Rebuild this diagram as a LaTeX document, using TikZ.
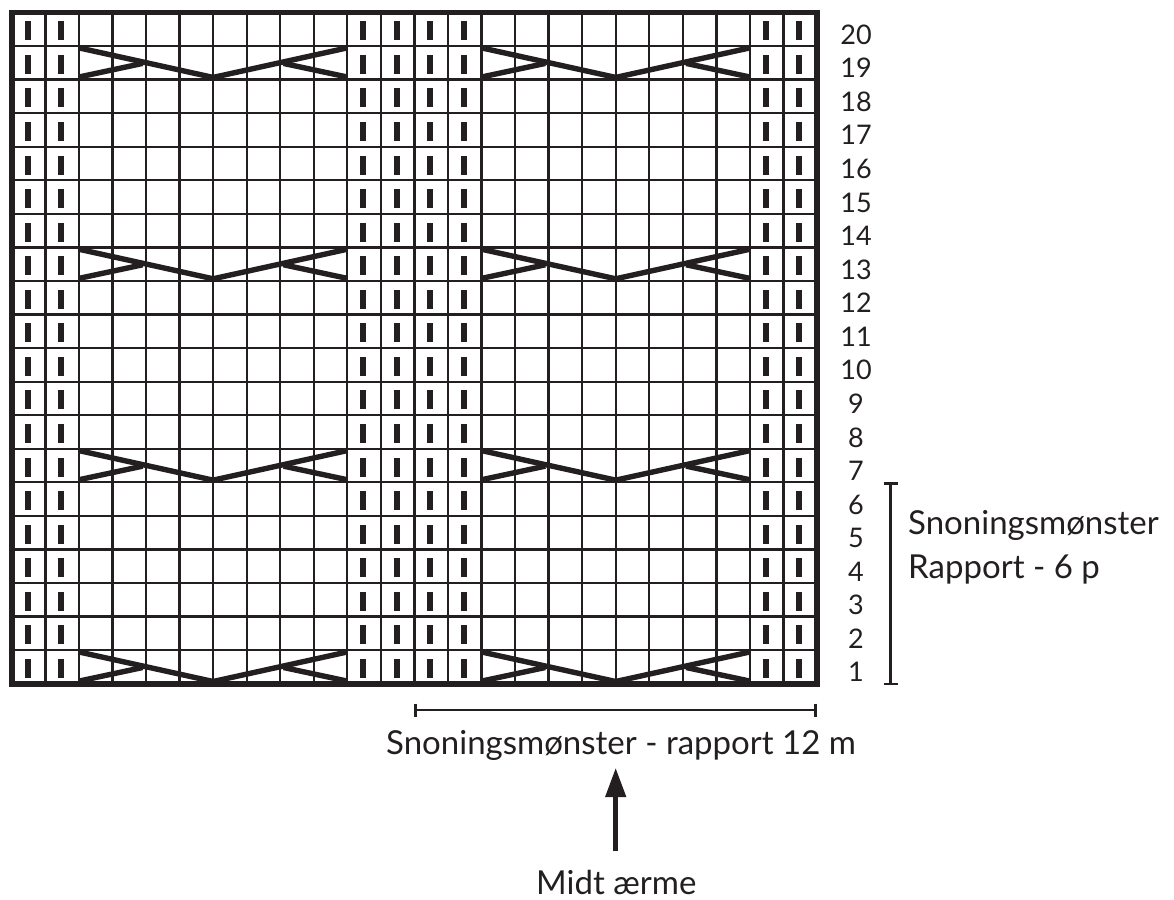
\documentclass[tikz,border=0pt]{standalone}
\usepackage{fontspec}
\setmainfont{Lato}
\usetikzlibrary{arrows.meta,calc}
\definecolor{ink}{HTML}{231F20}
\tikzset{
  px/.style={x=1pt,y=-1pt},
  gridline/.style={draw=ink,line width=2.3pt},
  frameline/.style={draw=ink,line width=5.8pt},
  purl/.style={fill=ink,draw=none},
  cable/.style={draw=ink,line width=5.4pt},
  rowlabel/.style={text=ink,font=\fontsize{27}{27}\selectfont,inner sep=0pt,anchor=base},
  caption/.style={text=ink,font=\fontsize{33}{33}\selectfont,inner sep=0pt,anchor=base west},
  bracketline/.style={draw=ink,line width=2.6pt},
}
\def\gx{11.8}\def\gy{12.5}\def\cw{33.55}\def\ch{33.56}
\begin{document}
\begin{tikzpicture}[px]
\useasboundingbox (0,0) rectangle (1174,899);
\foreach \i in {1,...,23}{\draw[gridline] ({\gx+\i*\cw},\gy) -- ({\gx+\i*\cw},{\gy+20*\ch});}
\foreach \j in {1,...,19}{\draw[gridline] (\gx,{\gy+\j*\ch}) -- ({\gx+24*\cw},{\gy+\j*\ch});}
\draw[frameline] (\gx,\gy) rectangle ({\gx+24*\cw},{\gy+20*\ch});
\foreach \c in {0,1,10,11,12,13,22,23}{
 \foreach \r in {0,...,19}{
  \fill[purl] ({\gx+(\c+.5)*\cw-1-3},{\gy+(\r+.5)*\ch+1.5-9.5}) rectangle ({\gx+(\c+.5)*\cw-1+3},{\gy+(\r+.5)*\ch+1.5+9.5});
 }}
\foreach \r in {1,7,13,19}{
 \foreach \c in {2,14}{
  \coordinate (tl) at ({\gx+\c*\cw},{\gy+\r*\ch+1.8});
  \coordinate (bl) at ({\gx+\c*\cw},{\gy+(\r+1)*\ch-2.6});
  \coordinate (ap) at ({\gx+(\c+4)*\cw},{\gy+(\r+1)*\ch-2.2});
  \coordinate (tr) at ({\gx+(\c+8)*\cw},{\gy+\r*\ch+1.8});
  \coordinate (br) at ({\gx+(\c+8)*\cw},{\gy+(\r+1)*\ch-2.6});
  \draw[cable,line join=bevel] (tl) -- (ap) -- (tr);
  \draw[cable] (bl) -- ($(bl)+({1.9*\cw},-13.6)$);
  \draw[cable] (br) -- ($(br)+({-1.9*\cw},-13.6)$);
 }}
\foreach \n in {1,...,20}{
 \node[rowlabel] (r\n) at (856,{\gy+(20-\n+.5)*\ch+15}) {\n};
}
\coordinate (vt) at (890.7,483.7); \coordinate (vb) at (890.7,684);
\draw[bracketline] (vt) -- (vb);
\draw[bracketline] ($(vt)+(-7,0)$) -- ($(vt)+(7,0)$);
\draw[bracketline] ($(vb)+(-7,0)$) -- ($(vb)+(7,0)$);
\coordinate (hl) at (415.5,710); \coordinate (hr) at (815.5,710);
\draw[bracketline] (hl) -- (hr);
\draw[bracketline] ($(hl)+(0,-6.5)$) -- ($(hl)+(0,6.5)$);
\draw[bracketline] ($(hr)+(0,-6.5)$) -- ($(hr)+(0,6.5)$);
\node[caption] (c1) at (908,534) {Snoningsmønster};
\node[caption] (c2) at (908,578) {Rapport - 6 p};
\node[caption] (c3) at (386,754) {Snoningsmønster - rapport 12 m};
\node[caption] (c4) at (536,894) {Midt ærme};
\coordinate (a0) at (615.7,851); \coordinate (a1) at (615.7,768);
\draw[draw=ink,line width=4.5pt,-{Triangle[length=29pt,width=20pt]}] (a0) -- (a1);
\end{tikzpicture}
\end{document}
